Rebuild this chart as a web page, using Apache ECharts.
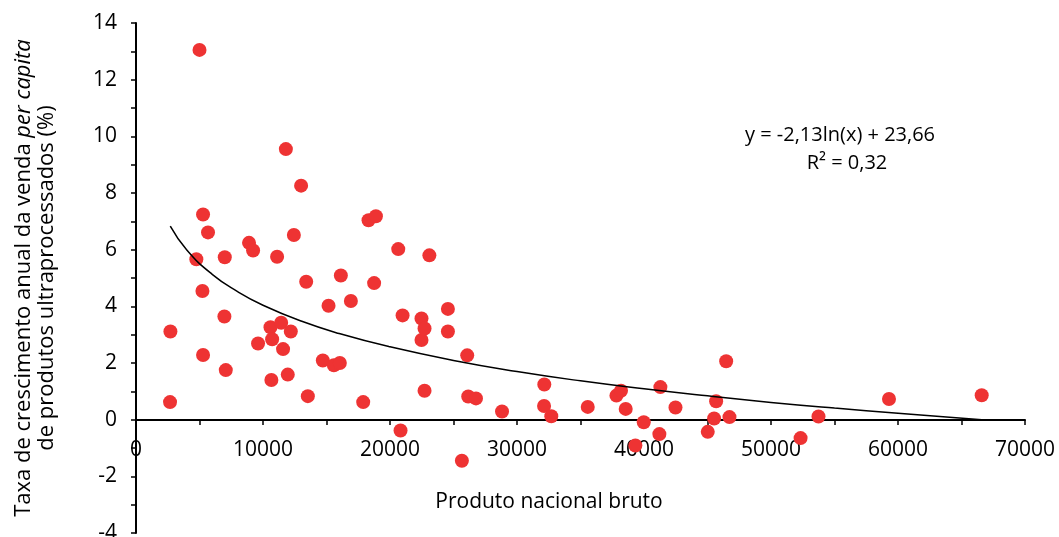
<!DOCTYPE html>
<html>
<head>
<meta charset="utf-8">
<script src="https://cdn.jsdelivr.net/npm/echarts@6/dist/echarts.min.js"></script>
<style>
html,body{margin:0;padding:0;background:#fff;}
#chart{width:1059px;height:537px;}
</style>
</head>
<body>
<div id="chart"></div>
<script>
// Scatter data: [PNB, growth %]
const gnp = [2680,2710,4750,5000,5230,5280,5280,5670,6960,6990,7070,8900,9220,9610,10590,10660,10720,11110,11430,11580,11800,11950,12190,12430,13000,13400,13530,14710,15160,15580,16050,16130,16920,17890,18310,18750,18890,20650,20830,20990,22480,22480,22720,22720,23100,24560,24560,25660,26080,26160,26770,28820,32130,32150,32700,35570,37830,38190,38560,39320,39980,41210,41290,42480,45020,45520,45680,46470,46730,52330,53740,59290,66590];
const growth = [0.62,3.11,5.66,13.05,4.54,7.24,2.28,6.61,3.64,5.73,1.75,6.24,5.97,2.69,3.26,1.40,2.84,5.75,3.42,2.49,9.55,1.59,3.11,6.52,8.26,4.87,0.83,2.09,4.02,1.92,2.00,5.09,4.19,0.62,7.04,4.82,7.18,6.02,-0.38,3.68,3.57,2.81,3.22,1.02,5.80,3.91,3.11,-1.45,2.27,0.82,0.75,0.29,0.48,1.24,0.12,0.45,0.85,1.02,0.38,-0.91,-0.09,-0.51,1.15,0.43,-0.43,0.04,0.65,2.06,0.09,-0.65,0.11,0.73,0.86];
// Trend line points
const trendX = [2700,4000,6000,8000,10000,13000,16000,20000,25000,30000,35000,40000,45000,50000,55000,60000,66600];
const trendY = [6.83,5.99,5.13,4.52,4.04,3.48,3.04,2.57,2.09,1.70,1.37,1.09,0.84,0.61,0.41,0.23,0.00];
const equationText = 'y = -2,13ln(x) + 23,66';
const r2Text = 'R² = 0,32';
const xAxisName = 'Produto nacional bruto';

const FONT = '"Open Sans"';
const FS = 21;
const chart = echarts.init(document.getElementById('chart'), null, {renderer: 'canvas'});
chart.setOption({
  animation: false,
  backgroundColor: '#ffffff',
  textStyle: {fontFamily: FONT},
  grid: {left: 136, right: 34, top: 23, bottom: 4, containLabel: false, outerBoundsMode: 'none'},
  xAxis: {
    type: 'value', min: 0, max: 70000, interval: 10000,
    offset: -113,
    axisLine: {show: true, onZero: false, lineStyle: {color: '#000', width: 2}},
    axisTick: {show: true, inside: false, length: 5, lineStyle: {color: '#000', width: 1.5}},
    minorTick: {show: true, splitNumber: 2, length: 5, lineStyle: {color: '#000', width: 1.5}},
    splitLine: {show: false},
    axisLabel: {color: '#000', fontSize: FS, margin: 20, fontFamily: FONT, formatter: v => String(v)}
  },
  yAxis: {
    type: 'value', min: -4, max: 14, interval: 2,
    axisLine: {show: true, onZero: false, lineStyle: {color: '#000', width: 2}},
    axisTick: {show: true, inside: false, length: 5, lineStyle: {color: '#000', width: 1.5}},
    minorTick: {show: true, splitNumber: 2, length: 5, lineStyle: {color: '#000', width: 1.5}},
    splitLine: {show: false},
    axisLabel: {color: '#000', fontSize: FS, margin: 19, fontFamily: FONT},
    name: 'Taxa de crescimento anual da venda {i|per capita}\nde produtos ultraprocessados (%)',
    nameLocation: 'middle', nameRotate: 90, nameGap: 78,
    nameTextStyle: {color: '#000', fontSize: 22, lineHeight: 23, align: 'center', fontFamily: FONT,
      rich: {i: {fontStyle: 'italic', fontSize: 22, color: '#000', fontFamily: FONT}}}
  },
  graphic: [
    {type: 'text', x: 549, y: 502, style: {text: xAxisName, fill: '#000', font: FS + 'px ' + FONT, align: 'center', verticalAlign: 'middle'}, z: 10},
    {type: 'text', x: 840, y: 135, style: {text: equationText, fill: '#000', font: '20px ' + FONT, align: 'center', verticalAlign: 'middle'}, z: 10},
    {type: 'text', x: 847, y: 163, style: {text: r2Text, fill: '#000', font: '20px ' + FONT, align: 'center', verticalAlign: 'middle'}, z: 10}
  ],
  series: [
    {
      type: 'scatter', symbol: 'circle', symbolSize: 14,
      itemStyle: {color: '#ee3333', opacity: 1},
      data: gnp.map((x, i) => [x, growth[i]]),
      z: 3
    },
    {
      type: 'line', smooth: true, symbol: 'none',
      lineStyle: {color: '#000', width: 1.5},
      data: trendX.map((x, i) => [x, trendY[i]]),
      z: 4
    }
  ]
});
</script>
</body>
</html>
